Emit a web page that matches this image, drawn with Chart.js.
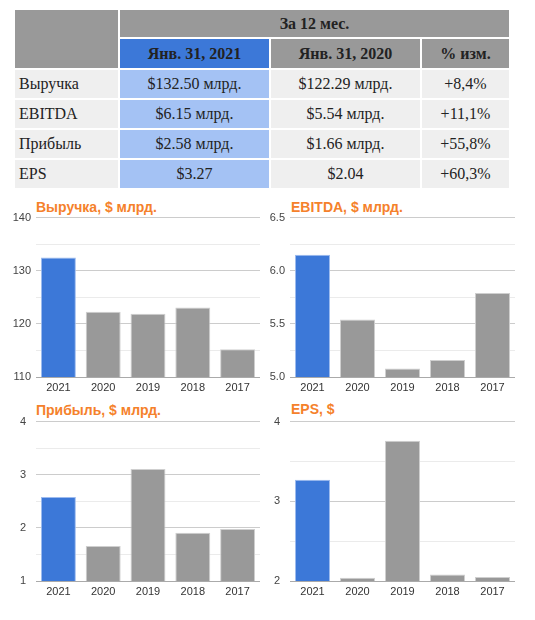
<!DOCTYPE html>
<html><head><meta charset="utf-8">
<script src="https://cdn.jsdelivr.net/npm/chart.js@4"></script>
<style>
body{margin:0;background:#fff;width:535px;height:620px;position:relative;overflow:hidden;}
.cell{position:absolute;box-sizing:border-box;font-family:"Liberation Serif","Times New Roman",serif;font-size:16px;color:#222;display:flex;align-items:center;justify-content:center;}
.hdr{background:#999999;font-weight:bold;color:#222;}
.hblue{background:#3c78d8;font-weight:bold;color:#222;}
.lb{background:#a4c2f4;}
.gr{background:#efefef;}
.lbl{justify-content:flex-start;padding-left:4px;}
.ttl{position:absolute;font-family:"Liberation Sans",Arial,sans-serif;font-weight:bold;font-size:14px;color:#f5812b;line-height:16px;white-space:nowrap;}
canvas{position:absolute;}
</style></head>
<body>
<div id="tbl"></div>
<div class="ttl" style="left:36px;top:199px">Выручка, $ млрд.</div>
<div class="ttl" style="left:291px;top:199px">EBITDA, $ млрд.</div>
<div class="ttl" style="left:36px;top:402px">Прибыль, $ млрд.</div>
<div class="ttl" style="left:291px;top:401px">EPS, $</div>
<div style="position:absolute;left:0;top:206px;width:270px;height:192px"><canvas id="c1"></canvas></div>
<div style="position:absolute;left:255px;top:206px;width:270px;height:192px"><canvas id="c2"></canvas></div>
<div style="position:absolute;left:0;top:405px;width:270px;height:197px"><canvas id="c3"></canvas></div>
<div style="position:absolute;left:255px;top:405px;width:270px;height:197px"><canvas id="c4"></canvas></div>
<script>
// ---- table data ----
const tableTitle = "За 12 мес.";
const colHeaders = ["Янв. 31, 2021", "Янв. 31, 2020", "% изм."];
const rowLabels = ["Выручка", "EBITDA", "Прибыль", "EPS"];
const current = ["$132.50 млрд.", "$6.15 млрд.", "$2.58 млрд.", "$3.27"];
const previous = ["$122.29 млрд.", "$5.54 млрд.", "$1.66 млрд.", "$2.04"];
const changes = ["+8,4%", "+11,1%", "+55,8%", "+60,3%"];

// ---- chart data ----
const years = ["2021", "2020", "2019", "2018", "2017"];
const revenue = [132.50, 122.29, 121.9, 123.1, 115.2];
const ebitda = [6.15, 5.54, 5.08, 5.16, 5.79];
const profit = [2.58, 1.66, 3.11, 1.91, 1.98];
const eps = [3.27, 2.04, 3.76, 2.08, 2.05];

// ---- build table ----
const tbl = document.getElementById('tbl');
const colX = [15, 120, 271, 422];
const colW = [103, 149, 149, 87];
function cell(x, y, w, h, cls, text) {
  const d = document.createElement('div');
  d.className = 'cell ' + cls;
  d.style.left = x + 'px'; d.style.top = y + 'px';
  d.style.width = w + 'px'; d.style.height = h + 'px';
  d.textContent = text;
  tbl.appendChild(d);
}
cell(colX[0], 10, colW[0], 58, 'hdr', '');
cell(colX[1], 10, 509 - colX[1], 27, 'hdr', tableTitle);
cell(colX[1], 39, colW[1], 29, 'hblue', colHeaders[0]);
cell(colX[2], 39, colW[2], 29, 'hdr', colHeaders[1]);
cell(colX[3], 39, colW[3], 29, 'hdr', colHeaders[2]);
rowLabels.forEach((r, i) => {
  const y = 70 + i * 30;
  cell(colX[0], y, colW[0], 28, 'gr lbl', r);
  cell(colX[1], y, colW[1], 28, 'lb', current[i]);
  cell(colX[2], y, colW[2], 28, 'gr', previous[i]);
  cell(colX[3], y, colW[3], 28, 'gr', changes[i]);
});

// ---- charts ----
const blue = '#3c78d8', gray = '#999999';
function makeChart(id, values, min, max, step, major, dec, yWidth, tickPad) {
  const isMajor = v => Math.abs(Math.round(v / major) * major - v) < 1e-6;
  new Chart(document.getElementById(id), {
    type: 'bar',
    data: {
      labels: years,
      datasets: [{
        data: values,
        backgroundColor: years.map((y, i) => i === 0 ? blue : gray),
        borderColor: years.map((y, i) => i === 0 ? '#9dbbef' : '#cfcfcf'),
        borderWidth: 1,
        borderSkipped: 'bottom',
        barPercentage: 0.78,
        categoryPercentage: 1.0
      }]
    },
    options: {
      responsive: true,
      maintainAspectRatio: false,
      animation: false,
      devicePixelRatio: 1,
      layout: { padding: { top: 0, right: 10, left: 0, bottom: 0 } },
      plugins: { legend: { display: false }, tooltip: { enabled: false }, title: { display: false } },
      scales: {
        x: {
          grid: { display: false, drawTicks: false },
          border: { display: false },
          ticks: { color: '#333', font: { family: 'Liberation Sans, Arial, sans-serif', size: 11 }, padding: 4, maxRotation: 0 },
          afterFit: s => { s.height = 21; }
        },
        y: {
          min: min, max: max,
          grid: {
            drawTicks: false,
            color: ctx => ctx.index === 0 ? '#aaaaaa' : (isMajor(ctx.tick.value) ? '#cccccc' : '#ebebeb'),
            lineWidth: 1
          },
          border: { display: false },
          ticks: {
            stepSize: step,
            color: '#444',
            padding: tickPad,
            font: { family: 'Liberation Sans, Arial, sans-serif', size: 11 },
            callback: v => isMajor(v) ? v.toFixed(dec) : ''
          },
          afterFit: s => { s.width = yWidth; }
        }
      }
    }
  });
}
makeChart('c1', revenue, 110, 140, 5, 10, 0, 36, 5);
makeChart('c2', ebitda, 5.0, 6.5, 0.25, 0.5, 1, 35, 5);
makeChart('c3', profit, 1, 4, 0.5, 1, 0, 36, 10);
makeChart('c4', eps, 2, 4, 0.5, 1, 0, 35, 10);
</script>
</body></html>
